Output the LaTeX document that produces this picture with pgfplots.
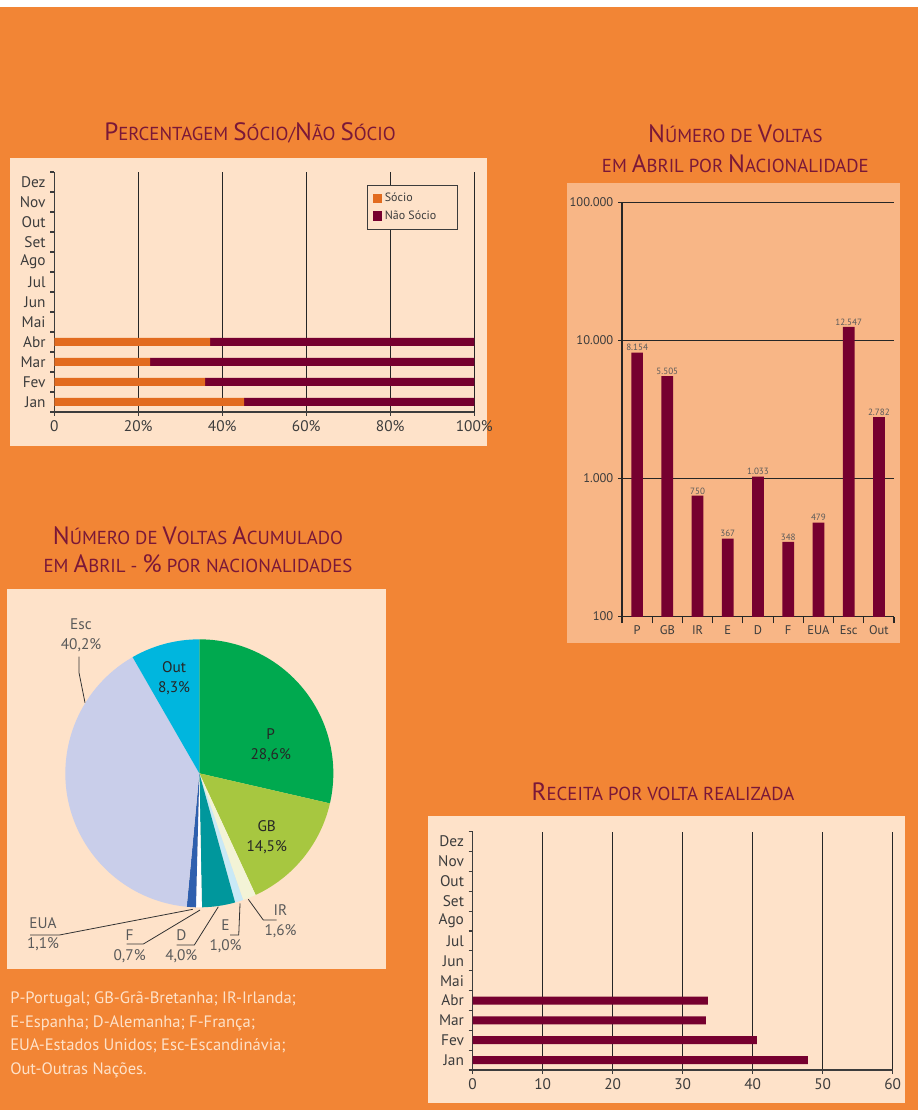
\documentclass[border=0pt]{standalone}
\usepackage{pgfplots}
\pgfplotsset{compat=1.18}
\usepackage{fontspec}
\setmainfont{PT Sans}
\definecolor{bgorange}{HTML}{F28535}
\definecolor{panel}{HTML}{FEE2C9}
\definecolor{panel2}{HTML}{F8B686}
\definecolor{maroon}{HTML}{76002F}
\definecolor{socio}{HTML}{E26B1F}
\definecolor{titlec}{HTML}{7A1838}
\definecolor{txt}{HTML}{3C3C3C}
\definecolor{lbl}{HTML}{5A5A5A}
\definecolor{cP}{HTML}{00A94F}
\definecolor{cGB}{HTML}{A7C740}
\definecolor{cIR}{HTML}{F3F3D6}
\definecolor{cE}{HTML}{C9E9F6}
\definecolor{cD}{HTML}{00979C}
\definecolor{cF}{HTML}{FFFFFF}
\definecolor{cEUA}{HTML}{2E5FAE}
\definecolor{cEsc}{HTML}{C9CEEA}
\definecolor{cOut}{HTML}{00B6DE}
\newcommand\BG[1]{{\fontsize{18.8}{20}\selectfont #1}}
\newcommand\SM[1]{{\fontsize{14.1}{16}\selectfont #1}}
\begin{document}
\begin{tikzpicture}
\useasboundingbox (0,0) rectangle (688.5pt,832.5pt);
\fill[bgorange] (0,0) rectangle (688.5pt,827.25pt);
\fill[white] (0,827.25pt) rectangle (688.5pt,832.5pt);
% panels
\fill[panel] (7.5pt,498pt) rectangle (365.25pt,714pt);
\fill[panel2] (425.25pt,350.25pt) rectangle (675pt,695.25pt);
\fill[panel] (5.25pt,105.75pt) rectangle (289.5pt,390.75pt);
\fill[panel] (321pt,5.25pt) rectangle (678.75pt,220.5pt);
% titles
\node[text=titlec] at (187.5pt,732.75pt) {\BG{P}\SM{ERCENTAGEM }\BG{S}\SM{ÓCIO/}\BG{N}\SM{ÃO }\BG{S}\SM{ÓCIO}};
\node[text=titlec] at (551.5pt,732pt) {\BG{N}\SM{ÚMERO DE }\BG{V}\SM{OLTAS}};
\node[text=titlec] at (551.5pt,710pt) {\SM{EM }\BG{A}\SM{BRIL POR }\BG{N}\SM{ACIONALIDADE}};
\node[text=titlec] at (148.5pt,431pt) {\BG{N}\SM{ÚMERO DE }\BG{V}\SM{OLTAS }\BG{A}\SM{CUMULADO}};
\node[text=titlec] at (148.5pt,410pt) {\SM{EM }\BG{A}\SM{BRIL - }\BG{\%}\SM{ POR NACIONALIDADES}};
\node[text=titlec] at (497.25pt,238.5pt) {\BG{R}\SM{ECEITA POR VOLTA REALIZADA}};
% note text
\begin{scope}[every node/.style={anchor=base west, text=panel, font=\fontsize{12.4}{14}\selectfont, inner sep=0pt}]
\node at (7.5pt,79.5pt) {P-Portugal; GB-Grã-Bretanha; IR-Irlanda;};
\node at (7.5pt,62pt) {E-Espanha; D-Alemanha; F-França;};
\node at (7.5pt,44.5pt) {EUA-Estados Unidos; Esc-Escandinávia;};
\node at (7.5pt,27pt) {Out-Outras Nações.};
\end{scope}

\pgfplotsset{
  hbarstyle/.style={
    anchor=south west, scale only axis,
    bar width=6pt,
    ymin=-0.5, ymax=11.5,
    axis x line=bottom, axis y line=left,
    axis line style={-, draw=txt, line width=0.8pt},
    ytick={0,...,11},
    yticklabels={Jan,Fev,Mar,Abr,Mai,Jun,Jul,Ago,Set,Out,Nov,Dez},
    minor ytick={-0.5,0.5,...,11.5},
    xmajorgrids, grid style={draw=black!85, line width=0.8pt},
    tick align=outside, major tick length=3pt, minor tick length=3pt,
    tick style={draw=txt, line width=0.8pt},
    major y tick style={draw=none},
    ticklabel style={font=\fontsize{11.5}{13}\selectfont, text=txt},
  }
}
% Chart 1
\begin{axis}[hbarstyle, xbar stacked, at={(40.7pt,523.5pt)}, width=315pt, height=180pt,
  xmin=0, xmax=100,
  xtick={0,20,...,100}, xticklabels={0,20\%,40\%,60\%,80\%,100\%},
  legend style={at={(0.7445,0.946)}, anchor=north west, draw=txt, fill=panel,
    font=\fontsize{9}{11}\selectfont, text=txt, inner xsep=4pt, inner ysep=4pt, row sep=1pt},
  legend cell align=left,
  legend image code/.code={\fill[#1] (0pt,-3.6pt) rectangle (7.2pt,3.6pt);},
]
\addplot[fill=socio, draw=none] coordinates {(45.2,0) (35.9,1) (22.8,2) (37.1,3)};
\addlegendentry{\makebox[48pt][l]{Sócio}}
\addplot[fill=maroon, draw=none] coordinates {(54.8,0) (64.1,1) (77.2,2) (62.9,3)};
\addlegendentry{\makebox[48pt][l]{Não Sócio}}
\end{axis}
% Chart 4
\begin{axis}[hbarstyle, xbar, at={(354.5pt,30pt)}, width=315pt, height=178.7pt,
  xmin=0, xmax=60,
  xtick={0,10,...,60}, xticklabels={0,10,20,30,40,50,60},
]
\addplot[fill=maroon, draw=none] coordinates {(47.9,0) (40.6,1) (33.3,2) (33.6,3)};
\end{axis}
% Chart 2
\begin{axis}[at={(466.5pt,370.1pt)}, anchor=south west, width=204pt, height=310.6pt, scale only axis,
  ymode=log, ymin=100, ymax=100000, xmin=-0.5, xmax=8.5,
  ybar, bar width=8.8pt,
  axis x line=bottom, axis y line=left,
  axis line style={-, draw=black!85, line width=0.8pt},
  xtick={0,...,8}, xticklabels={P,GB,IR,E,D,F,EUA,Esc,Out},
  minor xtick={-0.5,0.5,...,8.5},
  ytick={100,1000,10000,100000}, yticklabels={100,1.000,10.000,100.000},
  minor y tick style={draw=none},
  ymajorgrids, grid style={draw=black!85, line width=0.8pt},
  tick align=outside, major tick length=3pt, minor tick length=5pt,
  tick style={draw=black!85, line width=0.8pt},
  major x tick style={draw=none},
  ticklabel style={font=\fontsize{9.4}{11}\selectfont, text=txt},
  nodes near coords, point meta=explicit symbolic,
  every node near coord/.append style={font=\fontsize{6.8}{8}\selectfont, text=lbl, inner sep=1pt},
]
\addplot[fill=maroon, draw=none] coordinates {(0,8154)[8.154] (1,5505)[5.505] (2,750)[750] (3,367)[367] (4,1033)[1.033] (5,348)[348] (6,479)[479] (7,12547)[12.547] (8,2782)[2.782]};
\end{axis}
% Pie
\begin{axis}[at={(149.5pt,252.5pt)}, anchor=origin, x=0.75pt, y=0.75pt,
  xmin=-190, xmax=190, ymin=-200, ymax=150, hide axis, clip=false]
\xdef\cum{0}
\foreach \v/\c in {28.6/cP,14.5/cGB,1.6/cIR,1.0/cE,4.0/cD,0.7/cF,1.1/cEUA,40.2/cEsc,8.3/cOut}{
  \pgfmathsetmacro\a{90-3.6*\cum}
  \pgfmathsetmacro\b{90-3.6*(\cum+\v)}
  \pgfmathsetmacro\px{134*cos(\a)}
  \pgfmathsetmacro\py{134*sin(\a)}
  \edef\temp{\noexpand\fill[\c] (axis cs:0,0) -- (axis cs:\px,\py) arc[start angle=\a, end angle=\b, radius=134] -- cycle;}
  \temp
  \pgfmathsetmacro\n{\cum+\v}\xdef\cum{\n}
}
\begin{scope}[every node/.style={align=center, font=\fontsize{11.5}{15}\selectfont}]
\node[text=black!85] at (axis cs:71.4,28.3) {P\\28,6\%};
\node[text=black!85] at (axis cs:67.4,-63.4) {GB\\14,5\%};
\node[text=black!85] at (axis cs:-25.3,95.6) {Out\\8,3\%};
\node[text=lbl] at (axis cs:-118.3,138.3) {Esc\\40,2\%};
\node[text=lbl] at (axis cs:81.2,-147.4) {IR\\1,6\%};
\node[text=lbl] at (axis cs:26.2,-163) {E\\1,0\%};
\node[text=lbl] at (axis cs:-18,-173) {D\\4,0\%};
\node[text=lbl] at (axis cs:-69.7,-173) {F\\0,7\%};
\node[text=lbl] at (axis cs:-156.3,-160.4) {EUA\\1,1\%};
\end{scope}
\begin{scope}[draw=black!80, line width=0.6pt]
\draw (axis cs:-120.3,116.6) -- (axis cs:-120.3,100.6) -- (axis cs:-114.3,70.6);
\draw (axis cs:49,-126) -- (axis cs:64,-146.7) -- (axis cs:77.4,-146.7);
\draw (axis cs:40.7,-130) -- (axis cs:39.4,-161.7) -- (axis cs:30.7,-161.7);
\draw (axis cs:19,-133.4) -- (axis cs:-5,-171.7) -- (axis cs:-22.6,-171.7);
\draw (axis cs:0.7,-136.7) -- (axis cs:-56,-170.7) -- (axis cs:-72.6,-170.7);
\draw (axis cs:-6.6,-136) -- (axis cs:-140,-161.7) -- (axis cs:-169.3,-161.7);
\end{scope}
\end{axis}
\end{tikzpicture}
\end{document}
